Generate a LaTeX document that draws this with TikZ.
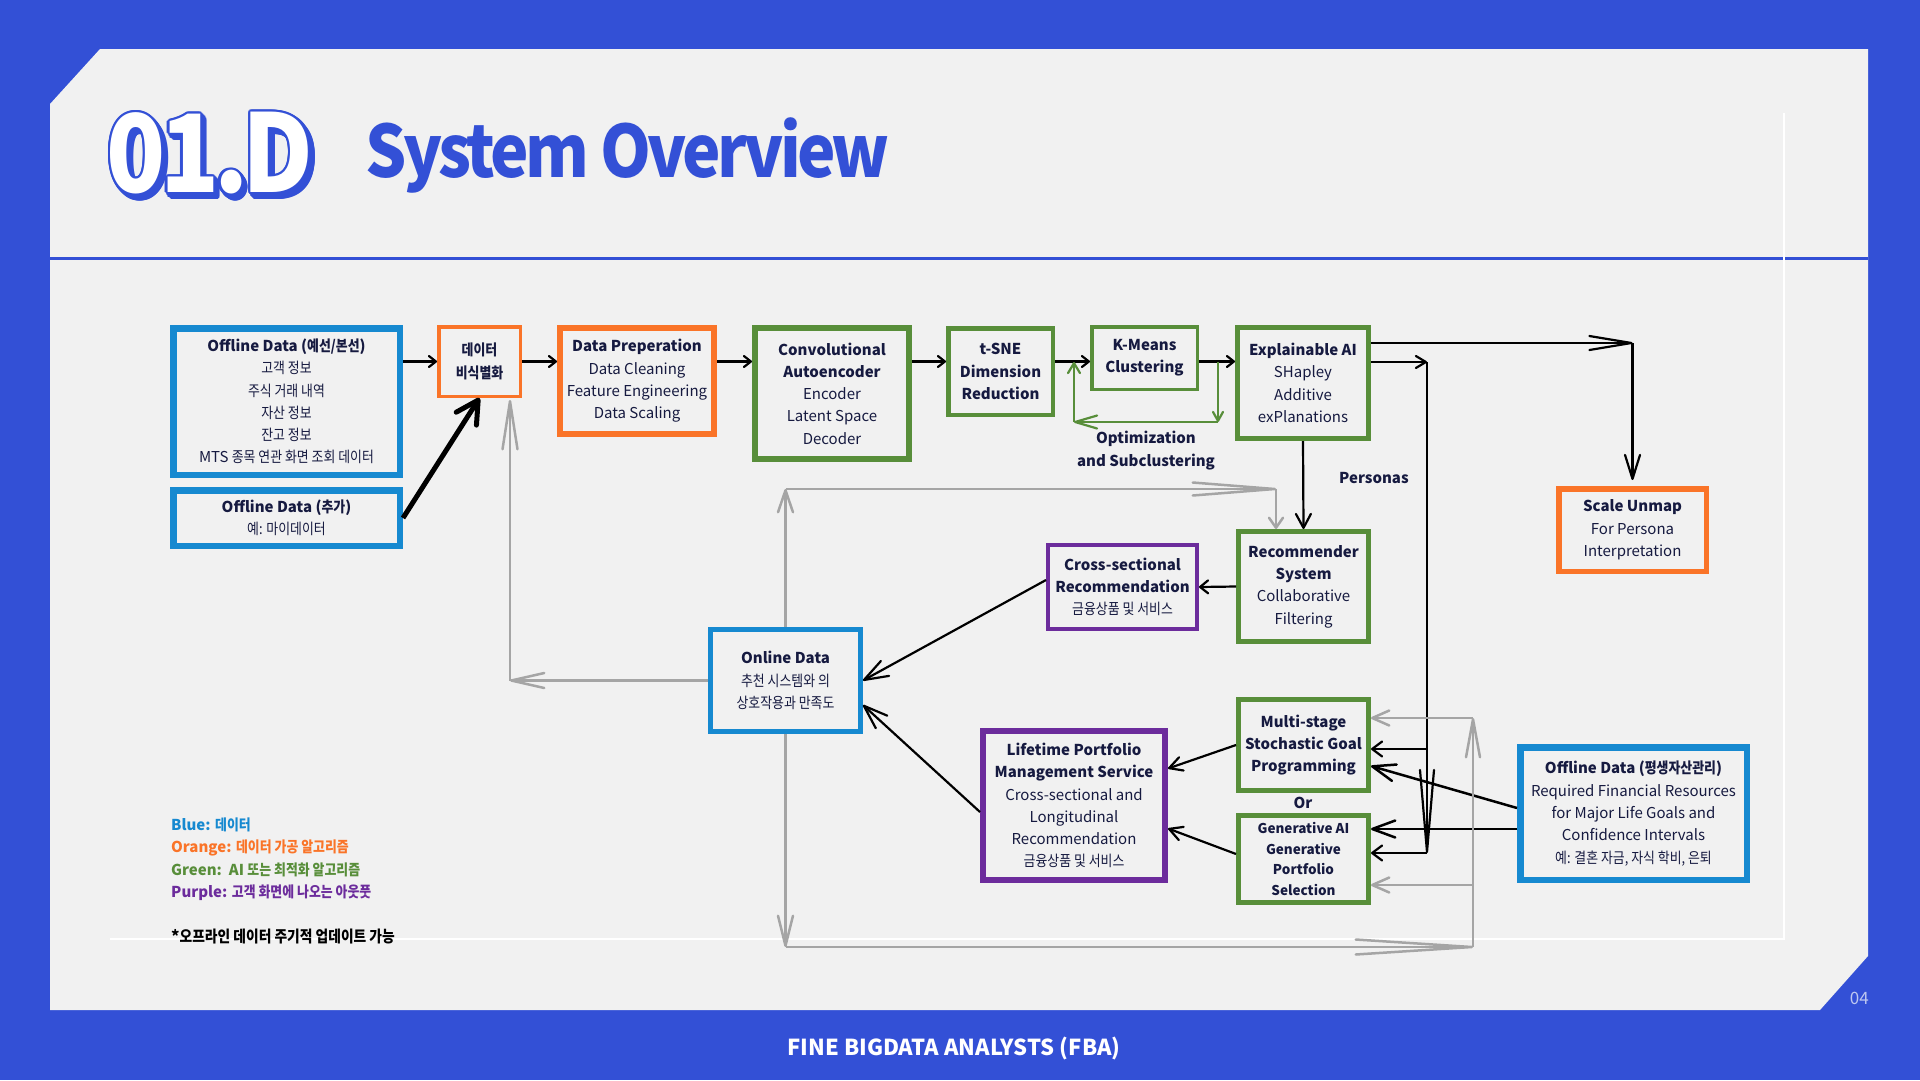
\documentclass[tikz,border=0pt]{standalone}
\usepackage{fontspec}
\setmainfont{Noto Sans CJK KR}
\newfontfamily\krfont{Noto Sans CJK KR}[FakeStretch=0.86]
\newfontfamily\headfont{Noto Sans CJK KR}[FakeStretch=0.9, LetterSpace=-5]
\newcommand\krtext[1]{{\krfont #1}}
\usetikzlibrary{arrows.meta}

\definecolor{frameblue}{RGB}{51,80,214}
\definecolor{panel}{RGB}{241,241,241}
\definecolor{cblue}{RGB}{22,137,208}
\definecolor{corange}{RGB}{250,116,40}
\definecolor{cgreen}{RGB}{88,142,58}
\definecolor{cpurple}{RGB}{108,44,156}
\definecolor{ink}{RGB}{22,26,64}
\definecolor{gline}{RGB}{165,165,165}
\definecolor{pagenum}{RGB}{190,200,240}

\begin{document}
\begin{tikzpicture}[x=1pt,y=-1pt,
  box/.style={rectangle, draw, inner sep=0pt, align=center, text=ink,
    font=\fontsize{15}{22.3}\selectfont},
  smallbox/.style={box, font=\fontsize{13.5}{20.8}\selectfont},
  label/.style={inner sep=0pt, align=center, text=ink,
    font=\bfseries\fontsize{15}{23}\selectfont},
  legend/.style={anchor=west, inner sep=0pt, font=\bfseries\fontsize{15}{17}\selectfont},
  headnum/.style={inner sep=0pt, font=\headfont\bfseries\fontsize{108}{108}\selectfont},
  blk/.style={draw=black, line width=2.2pt},
  gry/.style={draw=gline, line width=2.5pt},
  grn/.style={draw=cgreen, line width=2.2pt},
  arr/.style 2 args={-{Straight Barb[length=#1, width=#2, round]}},
]
\useasboundingbox (0,0) rectangle (1920,1080);

% frame and panel
\fill[frameblue] (0,0) rectangle (1920,1080);
\fill[panel] (50,104) -- (100,49) -- (1868,49) -- (1868,956) -- (1820,1010) -- (50,1010) -- cycle;
\draw[frameblue, line width=3pt] (50,258) -- (1868,258);
\draw[white, line width=1.2pt] (110,939) -- (1784,939) -- (1784,113);

% heading: white numerals with a blue outline and drop shadow
\coordinate (t0) at (210,153);
\foreach \dx/\dy [count=\i] in {0/0,1.4/1.7,2.8/3.4,4.2/5.1}{
  \foreach \a [count=\j] in {0,30,...,330}{
    \node[headnum, text=frameblue, shift={(\dx,\dy)}, shift={(\a:2.4)}] (sh-\i-\j) at (t0) {01.D};
  }
}
\node[headnum, text=white] (num) at (t0) {01.D};
\node[anchor=base west, inner sep=0pt, text=frameblue,
  font=\headfont\bfseries\fontsize{72}{72}\selectfont] (title) at (365,177) {System Overview};

% boxes
\node[box, draw=cblue, line width=6.5pt, minimum width=226.5pt, minimum height=146.5pt] (off1) at (286.5,401.5)
  {\textbf{Offline Data (\krtext{예선/본선})}\\\krtext{고객 정보}\\\krtext{주식 거래 내역}\\\krtext{자산 정보}\\\krtext{잔고 정보}\\MTS \krtext{종목 연관 화면 조회 데이터}};
\node[box, draw=cblue, line width=6.5pt, minimum width=226.5pt, minimum height=55.5pt] (off2) at (286.5,518)
  {\textbf{Offline Data (\krtext{추가})}\\\krtext{예: 마이데이터}};
\node[box, draw=corange, line width=3.5pt, minimum width=81.5pt, minimum height=69.5pt] (deid) at (479.5,361.5)
  {\bfseries\krtext{데이터}\\\bfseries\krtext{비식별화}};
\node[box, draw=corange, line width=6pt, minimum width=154pt, minimum height=106pt] (prep) at (637,381)
  {\textbf{Data Preperation}\\Data Cleaning\\Feature Engineering\\Data Scaling};
\node[box, draw=cgreen, line width=6pt, minimum width=154pt, minimum height=131pt] (cae) at (832,393.5)
  {\textbf{Convolutional}\\\textbf{Autoencoder}\\Encoder\\Latent Space\\Decoder};
\node[box, draw=cgreen, line width=4.5pt, minimum width=104.5pt, minimum height=86.5pt] (tsne) at (1000.5,371.5)
  {\textbf{t-SNE}\\\textbf{Dimension}\\\textbf{Reduction}};
\node[box, draw=cgreen, line width=3.5pt, minimum width=105.5pt, minimum height=62.5pt] (kmeans) at (1144.5,358)
  {\textbf{K-Means}\\\textbf{Clustering}};
\node[box, draw=cgreen, line width=5pt, minimum width=131pt, minimum height=111pt] (xai) at (1303,383)
  {\textbf{Explainable AI}\\SHapley\\Additive\\exPlanations};
\node[box, draw=corange, line width=5.5pt, minimum width=147.5pt, minimum height=82.5pt] (unmap) at (1632.5,530)
  {\textbf{Scale Unmap}\\For Persona\\Interpretation};
\node[box, draw=cgreen, line width=5pt, minimum width=130pt, minimum height=110pt] (rec) at (1303.5,586.5)
  {\textbf{Recommender}\\\textbf{System}\\Collaborative\\Filtering};
\node[box, draw=cpurple, line width=4pt, minimum width=149pt, minimum height=84pt] (cross) at (1122.5,587)
  {\textbf{Cross-sectional}\\\textbf{Recommendation}\\\krtext{금융상품 및 서비스}};
\node[box, draw=cblue, line width=5pt, minimum width=150pt, minimum height=102pt] (online) at (785.5,680.5)
  {\textbf{Online Data}\\\krtext{추천 시스템와 의}\\\krtext{상호작용과 만족도}};
\node[box, draw=cgreen, line width=5pt, minimum width=130pt, minimum height=91pt] (multi) at (1303.5,745)
  {\textbf{Multi-stage}\\\textbf{Stochastic Goal}\\\textbf{Programming}};
\node[smallbox, draw=cgreen, line width=5pt, minimum width=130pt, minimum height=87pt] (gen) at (1303.5,859)
  {\bfseries Generative AI\\\bfseries Generative\\\bfseries Portfolio\\\bfseries Selection};
\node[box, draw=cpurple, line width=6pt, minimum width=182pt, minimum height=149pt] (life) at (1074,805.5)
  {\textbf{Lifetime Portfolio}\\\textbf{Management Service}\\Cross-sectional and\\Longitudinal\\Recommendation\\\krtext{금융상품 및 서비스}};
\node[box, draw=cblue, line width=6.5pt, minimum width=226.5pt, minimum height=132.5pt] (off3) at (1633.5,813.5)
  {\textbf{Offline Data (\krtext{평생자산관리})}\\Required Financial Resources\\for Major Life Goals and\\Confidence Intervals\\\krtext{예: 결혼 자금, 자식 학비, 은퇴}};

% free labels
\node[label] (optlbl) at (1146,451) {Optimization\\and Subclustering};
\node[label, anchor=west] (perslbl) at (1339,478) {Personas};
\node[label] (orlbl) at (1303,803) {Or};

% main pipeline
\draw[blk, arr={7pt}{11pt}] (off1.east |- deid.west) -- (deid.west);
\draw[blk, line width=5pt, arr={22pt}{24pt}] (off2.east) -- (deid.south);
\draw[blk, arr={7pt}{11pt}] (deid.east) -- (prep.west |- deid.east);
\draw[blk, arr={7pt}{11pt}] (prep.east |- deid.east) -- (cae.west |- deid.east);
\draw[blk, arr={7pt}{11pt}] (cae.east |- deid.east) -- (tsne.west |- deid.east);
\draw[blk, arr={7pt}{11pt}] (tsne.east |- deid.east) -- (kmeans.west |- deid.east);
\draw[blk, arr={7pt}{11pt}] (kmeans.east |- deid.east) -- (xai.west |- deid.east);

% clustering feedback loop
\coordinate (g1) at (1218,362);
\coordinate (g2) at (1218,422);
\coordinate (g3) at (1074,422);
\coordinate (g4) at (1074,362);
\draw[grn, arr={9pt}{10pt}] (g1) -- (g2);
\draw[grn, arr={22pt}{13pt}] (g2) -- (g3);
\draw[grn, arr={10pt}{12pt}] (g3) -- (g4);

% persona interpretation
\coordinate (u1) at (1632.5,343);
\draw[blk, arr={42pt}{14pt}] (xai.east |- u1) -- (u1);
\draw[blk, arr={24pt}{15pt}, shorten >=6pt] (u1) -- (unmap.north);

% bus to the goal-based models
\coordinate (b1) at (1427,362);
\coordinate (b2) at (1427,853);
\coordinate (b3) at (1427,749);
\draw[blk, arr={10pt}{12pt}] (xai.east |- b1) -- (b1);
\draw[blk, arr={82pt}{14pt}] (b1) -- (b2);
\draw[blk, arr={10pt}{15pt}] (b3) -- (multi.east |- b3);
\draw[blk, arr={10pt}{15pt}] (b2) -- (gen.east |- b2);

% recommendation flow
\draw[blk, arr={14pt}{15pt}] (xai.south) -- (rec.north);
\draw[blk, arr={8pt}{13pt}] (rec.west) -- (cross.east);
\draw[blk, arr={24pt}{17pt}] ([yshift=7pt]cross.west) -- (online.east);
\draw[blk, arr={24pt}{17pt}] ([yshift=-6.5pt]life.west) -- ([yshift=-24.5pt]online.east);
\draw[blk, arr={13pt}{14pt}] (multi.west) -- ([yshift=37pt]life.east);
\draw[blk, arr={13pt}{14pt}] ([yshift=5pt]gen.west) -- ([yshift=-23pt]life.east);
\coordinate (o2) at ([yshift=5.5pt]off3.west);
\coordinate (o3) at ([yshift=-15.5pt]off3.west);
\draw[blk, line width=2.5pt, arr={23pt}{17pt}] (o2) -- ([yshift=-21pt]multi.east);
\draw[blk, line width=2.5pt, arr={23pt}{17pt}] (o3) -- (gen.east |- o3);

% online data feedback
\coordinate (h1) at (510,680.5);
\draw[gry, arr={33pt}{15pt}] (online.west) -- (h1);
\draw[gry, arr={48pt}{15pt}, shorten >=2pt] (h1) -- (h1 |- deid.south);
\coordinate (h2) at (785.5,489);
\coordinate (h3) at (1276,489);
\draw[gry, arr={22pt}{15pt}] (online.north) -- (h2);
\draw[gry, arr={82pt}{13pt}] (h2) -- (h3);
\draw[gry, arr={10pt}{14pt}] (h3) -- (h3 |- rec.north);
\coordinate (h4) at (785.5,947);
\coordinate (h5) at (1473,947);
\coordinate (h6) at (1473,718);
\coordinate (h7) at (1473,885);
\draw[gry, arr={30pt}{15pt}] (online.south) -- (h4);
\draw[gry, arr={116pt}{15pt}] (h4) -- (h5);
\draw[gry, arr={38pt}{14pt}] (h5) -- (h6);
\draw[gry, arr={17pt}{15pt}] (h6) -- (multi.east |- h6);
\draw[gry, arr={17pt}{15pt}] (h7) -- (gen.east |- h7);

% legend
\node[legend, text=cblue] (lg1) at (171,825) {Blue: \krtext{데이터}};
\node[legend, text=corange] (lg2) at (171,848) {Orange: \krtext{데이터 가공 알고리즘}};
\node[legend, text=cgreen] (lg3) at (171,870) {Green:\ \ AI \krtext{또는 최적화 알고리즘}};
\node[legend, text=cpurple] (lg4) at (171,893) {Purple: \krtext{고객 화면에 나오는 아웃풋}};
\node[legend, text=black, font=\bfseries\fontsize{16}{18}\selectfont] (note) at (171,937) {*\krtext{오프라인 데이터 주기적 업데이트 가능}};

% footer
\node[inner sep=0pt, text=white, font=\bfseries\fontsize{22}{26}\selectfont] (foot) at (954,1048) {FINE BIGDATA ANALYSTS (FBA)};
\node[inner sep=0pt, anchor=east, text=pagenum, font=\fontsize{17}{20}\selectfont] (pg) at (1869,998) {04};
\end{tikzpicture}
\end{document}
